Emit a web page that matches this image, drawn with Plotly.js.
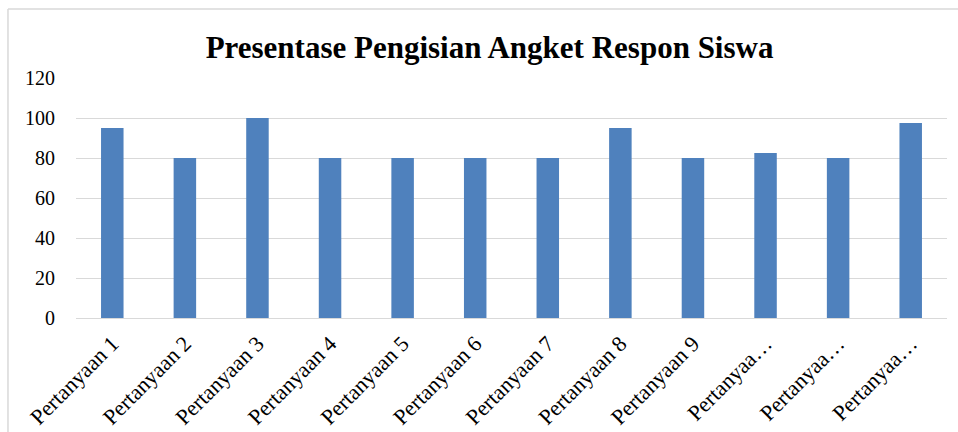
<!DOCTYPE html>
<html>
<head>
<meta charset="utf-8">
<script src="https://cdn.plot.ly/plotly-3.0.1.min.js"></script>
<style>
html,body{margin:0;padding:0;background:#fff;}
#chart{width:958px;height:432px;}
</style>
</head>
<body>
<div id="chart"></div>
<script>
const categories = ["Pertanyaan 1","Pertanyaan 2","Pertanyaan 3","Pertanyaan 4","Pertanyaan 5","Pertanyaan 6","Pertanyaan 7","Pertanyaan 8","Pertanyaan 9","Pertanyaan 10","Pertanyaan 11","Pertanyaan 12"];
const tickLabels = ["Pertanyaan 1","Pertanyaan 2","Pertanyaan 3","Pertanyaan 4","Pertanyaan 5","Pertanyaan 6","Pertanyaan 7","Pertanyaan 8","Pertanyaan 9","Pertanyaa…","Pertanyaa…","Pertanyaa…"];
const values = [95,80,100,80,80,80,80,95,80,82.5,80,97.5];
const yTicks = [0,20,40,60,80,100,120];

const trace = {
  type: 'bar',
  x: categories,
  y: values,
  marker: {color: '#4f81bd'},
  hoverinfo: 'x+y'
};

const layout = {
  width: 958, height: 432,
  margin: {l: 76, r: 11, t: 78, b: 114},
  paper_bgcolor: '#fff', plot_bgcolor: '#fff',
  font: {family: '"Liberation Serif", "Times New Roman", serif', color: '#000'},
  title: {
    text: '<b>Presentase Pengisian Angket Respon Siswa</b>',
    font: {size: 31, family: '"Liberation Serif", serif', color: '#000'},
    x: 0.511, xanchor: 'center', y: 0.892, yanchor: 'middle'
  },
  bargap: 0.69,
  showlegend: false,
  xaxis: {
    tickmode: 'array', tickvals: categories, ticktext: tickLabels,
    tickangle: -45,
    tickfont: {size: 22, family: '"Liberation Serif", serif', color: '#000'},
    showgrid: false, zeroline: false,
    showline: true, linecolor: '#d9d9d9', linewidth: 1,
    ticks: '', ticklabelstandoff: 3, automargin: false
  },
  yaxis: {
    range: [0, 120],
    tickmode: 'array', tickvals: yTicks,
    tickfont: {size: 20, family: '"Liberation Serif", serif', color: '#000'},
    showgrid: true, gridcolor: '#d9d9d9', gridwidth: 1,
    zeroline: false, showline: false, ticks: '',
    ticklabelstandoff: 20, automargin: false
  },
  shapes: [
    {type: 'line', xref: 'paper', yref: 'paper', x0: -0.0781, x1: -0.0781, y0: 1.2875, y1: -0.5,
     line: {color: '#d9d9d9', width: 1.5}},
    {type: 'line', xref: 'paper', yref: 'paper', x0: -0.0781, x1: 1.02, y0: 1.2875, y1: 1.2875,
     line: {color: '#d9d9d9', width: 1.5}}
  ]
};

Plotly.newPlot('chart', [trace], layout, {displayModeBar: false, responsive: false});
</script>
</body>
</html>
